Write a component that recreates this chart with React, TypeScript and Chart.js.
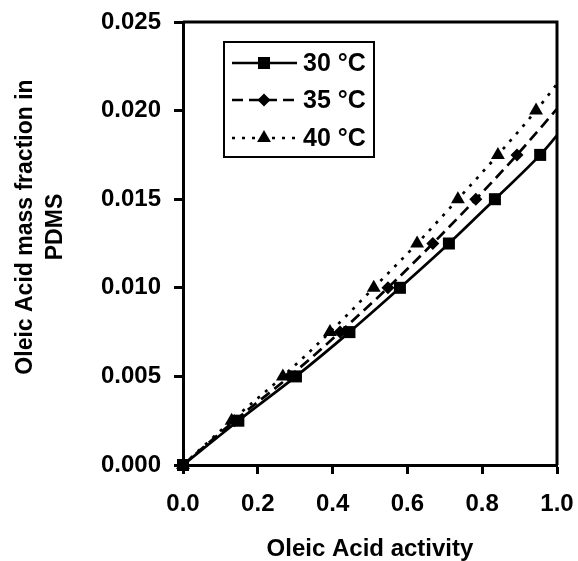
import React, { useEffect, useRef } from "react";
import { Chart, registerables } from "chart.js";

Chart.register(...registerables);

const seriesLabels = ["30 °C", "35 °C", "40 °C"];
const activity30 = [0, 0.148, 0.302, 0.445, 0.58, 0.711, 0.834, 0.955];
const fraction30 = [0, 0.0025, 0.005, 0.0075, 0.01, 0.0125, 0.015, 0.0175];
const activity35 = [0, 0.138, 0.285, 0.42, 0.548, 0.668, 0.783, 0.893];
const fraction35 = [0, 0.0025, 0.005, 0.0075, 0.01, 0.0125, 0.015, 0.0175];
const activity40 = [0, 0.13, 0.267, 0.393, 0.51, 0.626, 0.735, 0.842, 0.944];
const fraction40 = [0, 0.0025, 0.005, 0.0075, 0.01, 0.0125, 0.015, 0.0175, 0.02];
// fitted curve end values at activity = 1.0
const fitEndActivity = 1.0;
const fitEnd30 = 0.0186;
const fitEnd35 = 0.0201;
const fitEnd40 = 0.0215;

const xTicks = [0, 0.2, 0.4, 0.6, 0.8, 1.0];
const yTicks = [0, 0.005, 0.01, 0.015, 0.02, 0.025];
const xTitle = "Oleic Acid activity";
const yTitleLines = ["Oleic Acid mass fraction in", "PDMS"];

const FONT = "'Liberation Sans', Arial, sans-serif";

function pts(xs: number[], ys: number[]) {
  return xs.map((x, i) => ({ x, y: ys[i] }));
}

const styles = [
  { dash: [] as number[], shape: "rect", radius: 8.5 },
  { dash: [11, 6], shape: "rectRot", radius: 6.5 },
  { dash: [3, 7], shape: "triangle", radius: 8 },
];

function drawMarker(ctx: CanvasRenderingContext2D, shape: string, r: number, x: number, y: number) {
  ctx.beginPath();
  if (shape === "rect") {
    const s = Math.SQRT1_2 * r;
    ctx.rect(x - s, y - s, 2 * s, 2 * s);
  } else if (shape === "rectRot") {
    ctx.moveTo(x, y - r);
    ctx.lineTo(x + r, y);
    ctx.lineTo(x, y + r);
    ctx.lineTo(x - r, y);
    ctx.closePath();
  } else {
    ctx.moveTo(x, y - r);
    ctx.lineTo(x + Math.sin((2 * Math.PI) / 3) * r, y + r / 2);
    ctx.lineTo(x - Math.sin((2 * Math.PI) / 3) * r, y + r / 2);
    ctx.closePath();
  }
  ctx.fill();
}

const framePlugin = {
  id: "frameAndLegend",
  afterDraw(chart: any) {
    const { ctx, chartArea } = chart;
    ctx.save();
    ctx.strokeStyle = "#000";
    ctx.lineWidth = 3;
    ctx.beginPath();
    ctx.moveTo(chartArea.left, chartArea.top);
    ctx.lineTo(chartArea.right, chartArea.top);
    ctx.lineTo(chartArea.right, chartArea.bottom);
    ctx.stroke();

    // y axis title (two lines, rotated)
    ctx.save();
    ctx.translate(0, 227);
    ctx.rotate(-Math.PI / 2);
    ctx.fillStyle = "#000";
    ctx.font = `bold 23px ${FONT}`;
    ctx.textAlign = "center";
    ctx.textBaseline = "middle";
    ctx.fillText(yTitleLines[0], 0, 26);
    ctx.fillText(yTitleLines[1], 0, 56);
    ctx.restore();

    // legend
    const bx = chartArea.left + 41;
    const by = chartArea.top + 20;
    const bw = 150;
    const bh = 115;
    ctx.lineWidth = 2;
    ctx.fillStyle = "#fff";
    ctx.fillRect(bx, by, bw, bh);
    ctx.strokeRect(bx, by, bw, bh);
    const rows = [21, 58, 96];
    seriesLabels.forEach((label, i) => {
      const y = by + rows[i];
      const st = styles[i];
      ctx.lineWidth = 2.5;
      ctx.setLineDash(st.dash);
      ctx.beginPath();
      ctx.moveTo(bx + 8, y);
      ctx.lineTo(bx + 73, y);
      ctx.stroke();
      ctx.setLineDash([]);
      ctx.fillStyle = "#000";
      drawMarker(ctx, st.shape, st.radius, bx + 40, y);
      ctx.font = `bold 25px ${FONT}`;
      ctx.textAlign = "left";
      ctx.textBaseline = "middle";
      ctx.fillText(label, bx + 79, y + 1);
    });
    ctx.restore();
  },
};

export default function App() {
  const ref = useRef<HTMLCanvasElement | null>(null);
  useEffect(() => {
    if (!ref.current) return;
    const mk = (xs: number[], ys: number[], end: number, i: number) => {
      const data = pts(xs, ys).concat([{ x: fitEndActivity, y: end }]);
      const st = styles[i];
      return {
        label: seriesLabels[i],
        data,
        borderColor: "#000",
        backgroundColor: "#000",
        borderWidth: 2.7,
        borderDash: st.dash,
        showLine: true,
        tension: 0.3,
        cubicInterpolationMode: "monotone",
        pointStyle: st.shape,
        pointRadius: data.map((_, k) => (k === data.length - 1 ? 0 : st.radius)),
        pointBorderWidth: 0,
        pointBackgroundColor: "#000",
        clip: false,
      };
    };
    const chart = new Chart(ref.current, {
      type: "scatter",
      data: {
        datasets: [
          mk(activity30, fraction30, fitEnd30, 0),
          mk(activity35, fraction35, fitEnd35, 1),
          mk(activity40, fraction40, fitEnd40, 2),
        ] as any,
      },
      options: {
        animation: false,
        responsive: true,
        maintainAspectRatio: false,
        layout: { padding: { top: 22, right: 21, left: 0, bottom: 0 } },
        plugins: { legend: { display: false }, tooltip: { enabled: false } },
        scales: {
          x: {
            type: "linear",
            min: 0,
            max: 1,
            afterBuildTicks: (s: any) => {
              s.ticks = xTicks.map((v) => ({ value: v }));
            },
            afterFit: (s: any) => {
              s.height = 96;
              s.paddingLeft = 0;
              s.paddingRight = 0;
            },
            border: { display: true, color: "#000", width: 3 },
            grid: {
              display: true,
              drawOnChartArea: false,
              drawTicks: true,
              tickLength: 9,
              tickWidth: 3,
              tickColor: "#000",
            },
            ticks: {
              color: "#000",
              padding: 16,
              font: { family: FONT, size: 24, weight: "bold" },
              callback: (v: any) => Number(v).toFixed(1),
            },
            title: {
              display: true,
              text: xTitle,
              color: "#000",
              font: { family: FONT, size: 24, weight: "bold", lineHeight: 1.0 },
              padding: { top: 14, bottom: 0 },
            },
          },
          y: {
            type: "linear",
            min: 0,
            max: 0.025,
            afterBuildTicks: (s: any) => {
              s.ticks = yTicks.map((v) => ({ value: v }));
            },
            afterFit: (s: any) => {
              s.width = 183;
              s.paddingTop = 0;
              s.paddingBottom = 0;
            },
            border: { display: true, color: "#000", width: 3 },
            grid: {
              display: true,
              drawOnChartArea: false,
              drawTicks: true,
              tickLength: 9,
              tickWidth: 3,
              tickColor: "#000",
            },
            ticks: {
              color: "#000",
              padding: 13,
              font: { family: FONT, size: 24, weight: "bold" },
              callback: (v: any) => Number(v).toFixed(3),
            },
            title: { display: false },
          },
        },
      },
      plugins: [framePlugin],
    } as any);
    return () => chart.destroy();
  }, []);
  return (
    <div style={{ position: "absolute", left: 0, top: 0, width: 578, height: 561, background: "#fff" }}>
      <canvas ref={ref} />
    </div>
  );
}
